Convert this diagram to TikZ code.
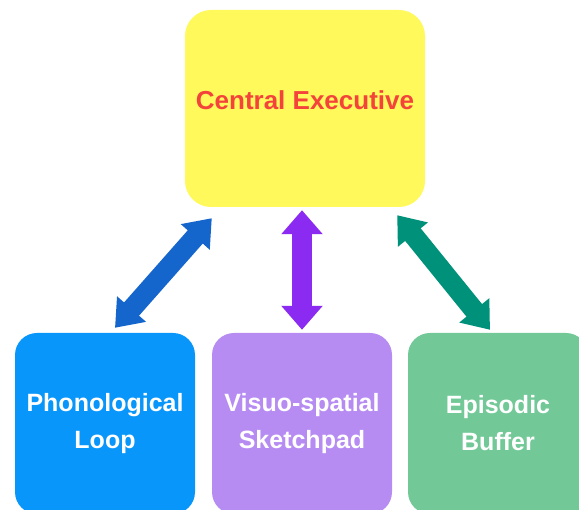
\documentclass[tikz,border=0pt]{standalone}
\usepackage{fontspec}
\setmainfont{Liberation Sans}
\usepackage{xcolor}
\usetikzlibrary{arrows.meta}

\definecolor{ceyellow}{HTML}{FFF95B}
\definecolor{cered}{HTML}{F4433A}
\definecolor{plblue}{HTML}{0896FA}
\definecolor{vslilac}{HTML}{B78CF2}
\definecolor{ebgreen}{HTML}{72C997}
\definecolor{arblue}{HTML}{1466CC}
\definecolor{arpurple}{HTML}{8B2BF2}
\definecolor{arteal}{HTML}{00917A}

\tikzset{
  membox/.style={rectangle, rounded corners=22pt, inner sep=0pt, align=center,
    text=white, font=\bfseries\fontsize{25}{37}\selectfont,
    minimum width=180pt, minimum height=181pt},
  link/.style={line width=20pt,
    {Triangle[width=37pt,length=25pt]}-{Triangle[width=37pt,length=25pt]}}
}

\begin{document}
\begin{tikzpicture}[x=1pt,y=-1pt]
\useasboundingbox (0,0) rectangle (579,510);

%%    NODES   %%
\node (ce) [membox, fill=ceyellow, minimum width=240pt, minimum height=197pt,
  rounded corners=26pt] at (305,108.5) {};
\node (cetext) at (305,100) [font=\bfseries\fontsize{26}{30}\selectfont, text=cered] {Central Executive};
\node (pl) [membox, fill=plblue] at (105,423.5) {Phonological\\Loop};
\node (vs) [membox, fill=vslilac] at (302,423.5) {Visuo-spatial\\Sketchpad};
\node (eb) [membox, fill=ebgreen] at (498,423.5) {Episodic\\Buffer};

%%    ARROWS    %%
\draw [link, arblue] ([shift={(10,-5)}]pl.north) -- ([shift={(27,11)}]ce.south west);
\draw [link, arpurple,
  {Triangle[width=40pt,length=24pt]}-{Triangle[width=40pt,length=24pt]}]
  ([shift={(0,-3)}]vs.north) -- ([shift={(-3,3)}]ce.south);
\draw [link, arteal] ([shift={(-8,-3)}]eb.north) -- ([shift={(-28,8)}]ce.south east);

\end{tikzpicture}
\end{document}
